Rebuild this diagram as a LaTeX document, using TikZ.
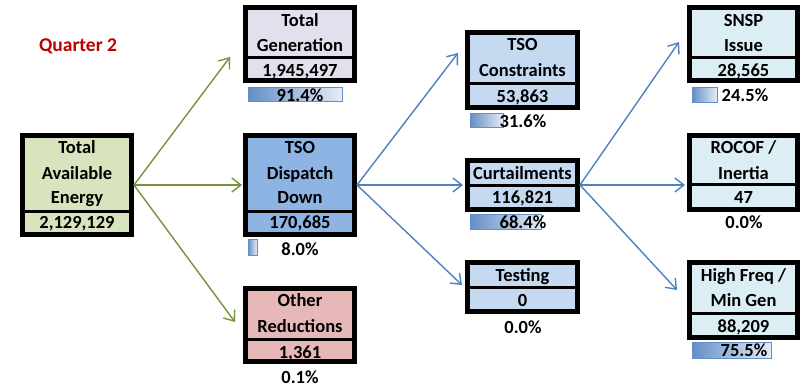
\documentclass[tikz,border=0pt]{standalone}
\usepackage{fontspec}
\setmainfont{Carlito}
\usetikzlibrary{arrows.meta}
\definecolor{grn}{HTML}{77933C}
\definecolor{blu}{HTML}{4F81BD}
\definecolor{barc}{HTML}{638EC6}
\definecolor{barl}{HTML}{E6ECF6}
\definecolor{qred}{HTML}{C00000}
\definecolor{fTAE}{HTML}{D7E4BD}
\definecolor{fTG}{HTML}{E4DFEC}
\definecolor{fDD}{HTML}{8DB4E2}
\definecolor{fOTH}{HTML}{E6B8B7}
\definecolor{fMID}{HTML}{C5D9F1}
\definecolor{fRT}{HTML}{DAEEF3}
\begin{document}
\begin{tikzpicture}[x=1pt,y=-1pt,
  box/.style={draw=black, line width=5pt, rectangle, inner sep=0pt},
  divline/.style={line width=3pt, line cap=butt},
  txt/.style={font=\bfseries\fontsize{18.5}{25.5}\selectfont, align=center, inner sep=0pt, anchor=base},
  databar/.style={draw=barc, line width=1pt, left color=barc, right color=barl},
  garrow/.style={draw=grn, line width=1.4pt, -{Straight Barb[length=9pt,width=14pt,line width=1.4pt]}},
  barrow/.style={draw=blu, line width=1.4pt, -{Straight Barb[length=9pt,width=14pt,line width=1.4pt]}}]
\useasboundingbox (0,0) rectangle (808,390);
\fill[white] (0,0) rectangle (808,390);

\node[font=\bfseries\fontsize{19.5}{22}\selectfont, text=qred, inner sep=0pt, anchor=base] (q) at (78,52) {Quarter 2};

% ---- boxes
\node[box, fill=fTAE, minimum width=109pt, minimum height=99pt] (tae) at (77,185) {};
\node[box, fill=fTG,  minimum width=109pt, minimum height=73pt]  (tg)  at (300,44) {};
\node[box, fill=fDD,  minimum width=109pt, minimum height=99pt] (dd)  at (300,185) {};
\node[box, fill=fOTH, minimum width=109pt, minimum height=73pt]  (oth) at (300,325) {};
\node[box, fill=fMID, minimum width=110pt, minimum height=75pt]  (tc)  at (522.5,70) {};
\node[box, fill=fMID, minimum width=110pt, minimum height=49pt]  (cur) at (522.5,185) {};
\node[box, fill=fMID, minimum width=110pt, minimum height=49pt]  (tst) at (522.5,287) {};
\node[box, fill=fRT,  minimum width=108pt, minimum height=73pt]  (snsp) at (743.5,44) {};
\node[box, fill=fRT,  minimum width=108pt, minimum height=74pt]  (roc) at (743.5,172.5) {};
\node[box, fill=fRT,  minimum width=108pt, minimum height=75pt]  (hf)  at (743.5,300) {};

% ---- dividers
\draw[divline] (tae.west |- 0,211) -- (tae.east |- 0,211);
\draw[divline] (tg.west |- 0,58) -- (tg.east |- 0,58);
\draw[divline] (dd.west |- 0,211) -- (dd.east |- 0,211);
\draw[divline] (oth.west |- 0,339) -- (oth.east |- 0,339);
\draw[divline] (tc.west |- 0,84) -- (tc.east |- 0,84);
\draw[divline] (cur.west |- 0,186) -- (cur.east |- 0,186);
\draw[divline] (tst.west |- 0,287) -- (tst.east |- 0,287);
\draw[divline] (snsp.west |- 0,58) -- (snsp.east |- 0,58);
\draw[divline] (roc.west |- 0,185) -- (roc.east |- 0,185);
\draw[divline] (hf.west |- 0,313) -- (hf.east |- 0,313);

% ---- texts (baselines)
\node[txt] (taeA) at (77,154) {Total};
\node[txt] (taeB) at (77,179) {Available};
\node[txt] (taeC) at (77,204) {Energy};
\node[txt] (taeV) at (77,229) {2,129,129};

\node[txt] (tgA) at (300,26.5) {Total};
\node[txt] (tgB) at (300,51.5) {Generation};
\node[txt] (tgV) at (300,77) {1,945,497};

\node[txt] (ddA) at (300,154) {TSO};
\node[txt] (ddB) at (300,179) {Dispatch};
\node[txt] (ddC) at (300,204) {Down};
\node[txt] (ddV) at (300,229) {170,685};

\node[txt] (othA) at (300,306) {Other};
\node[txt] (othB) at (300,332) {Reductions};
\node[txt] (othV) at (300,358) {1,361};

\node[txt] (tcA) at (522.5,51) {TSO};
\node[txt] (tcB) at (522.5,77) {Constraints};
\node[txt] (tcV) at (522.5,103) {53,863};

\node[txt] (curA) at (522.5,179) {Curtailments};
\node[txt] (curV) at (522.5,204) {116,821};

\node[txt] (tstA) at (522.5,281) {Testing};
\node[txt] (tstV) at (522.5,306) {0};

\node[txt] (snspA) at (743.5,26.5) {SNSP};
\node[txt] (snspB) at (743.5,51.5) {Issue};
\node[txt] (snspV) at (743.5,77) {28,565};

\node[txt] (rocA) at (743.5,154) {ROCOF /};
\node[txt] (rocB) at (743.5,179) {Inertia};
\node[txt] (rocV) at (743.5,204) {47};

\node[txt] (hfA) at (743.5,281) {High Freq /};
\node[txt] (hfB) at (743.5,306) {Min Gen};
\node[txt] (hfV) at (743.5,332) {88,209};

% ---- data bars and percentages
\draw[databar] (248,88) rectangle (342,102);
\node[txt] (tgP) at (300,101.5) {91.4\%};
\draw[databar] (248,239) rectangle (257,255);
\node[txt] (ddP) at (300,255) {8.0\%};
\node[txt] (othP) at (300,383) {0.1\%};
\draw[databar] (470,114) rectangle (503,128);
\node[txt] (tcP) at (523,128) {31.6\%};
\draw[databar] (470,214) rectangle (541,229);
\node[txt] (curP) at (523,228) {68.4\%};
\node[txt] (tstP) at (523,333) {0.0\%};
\draw[databar] (692,88) rectangle (717,103);
\node[txt] (snspP) at (745,102) {24.5\%};
\node[txt] (rocP) at (744,229) {0.0\%};
\draw[databar] (692,342) rectangle (771,358);
\node[txt] (hfP) at (744,356) {75.5\%};

% ---- connectors
\draw[garrow] (tae.east) -- ([xshift=-13pt,yshift=-13pt]tg.west);
\draw[garrow] (tae.east) -- ([xshift=-1pt]dd.west);
\draw[garrow] (tae.east) -- ([xshift=-8pt,yshift=3pt]oth.west);
\draw[barrow] (dd.east) -- ([xshift=-7pt,yshift=17pt]tc.west);
\draw[barrow] (dd.east) -- ([xshift=-2pt]cur.west);
\draw[barrow] (dd.east) -- ([xshift=-3pt,yshift=2pt]tst.west);
\draw[barrow] (cur.east) -- ([xshift=-8pt,yshift=2pt]snsp.west);
\draw[barrow] (cur.east) -- ([xshift=-2pt]roc.west |- cur.east);
\draw[barrow] (cur.east) -- ([xshift=-10pt,yshift=10pt]hf.west);
\end{tikzpicture}
\end{document}
